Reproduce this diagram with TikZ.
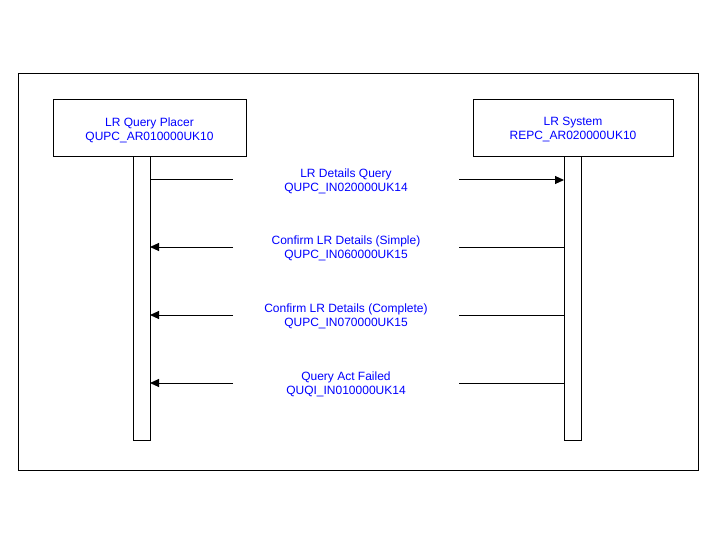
\documentclass[tikz,border=0pt]{standalone}
\usepackage{fontspec}
\setmainfont{Liberation Sans}
\usetikzlibrary{arrows.meta}
\definecolor{msgblue}{RGB}{0,0,255}
\begin{document}
\begin{tikzpicture}[x=1pt,y=-1pt,line width=1pt,
  lbl/.style={text=msgblue,font=\fontsize{12}{14}\selectfont,align=center,inner sep=0pt},
  actor/.style={draw,fill=white,minimum height=57pt,lbl,text width=190pt},
  bar/.style={draw,fill=white},
  msg/.style={-{Triangle[length=9pt,width=8pt]}}]
\useasboundingbox (0,0) rectangle (720,540);
\draw (18,74) rectangle (698,470);
% lifeline bars
\draw[bar] (133,157) rectangle (150,440);
\draw[bar] (564,157) rectangle (581,440);
% actors
\draw (53,100) rectangle (246,157);
\draw (473,100) rectangle (673,157);
\node[lbl] (qp) at (149.5,130) {LR Query Placer\\QUPC\_AR010000UK10};
\node[lbl] (sys) at (573,130) {LR System\\REPC\_AR020000UK10};
% messages
\foreach \y/\name/\t in {
  180/m1/{LR Details Query\\QUPC\_IN020000UK14},
  247/m2/{Confirm LR Details (Simple)\\QUPC\_IN060000UK15},
  315/m3/{Confirm LR Details (Complete)\\QUPC\_IN070000UK15},
  383/m4/{Query Act Failed\\QUQI\_IN010000UK14}}{
  \node[lbl] (\name) at (346,\y+1.5) {\t};
  \coordinate (\name a) at (233,\y);
  \coordinate (\name b) at (459,\y);
  \coordinate (\name L) at (150,\y);
  \coordinate (\name R) at (564,\y);
}
\draw (m1L) -- (m1a);
\draw[msg] (m1b) -- (m1R);
\draw (m2R) -- (m2b);
\draw[msg] (m2a) -- (m2L);
\draw (m3R) -- (m3b);
\draw[msg] (m3a) -- (m3L);
\draw (m4R) -- (m4b);
\draw[msg] (m4a) -- (m4L);
\end{tikzpicture}
\end{document}
